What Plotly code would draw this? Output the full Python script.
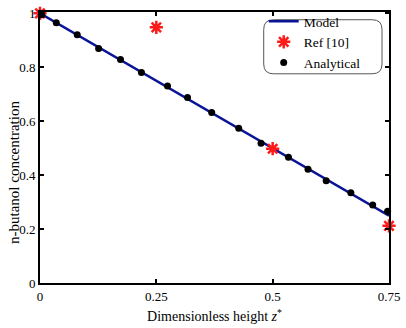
import plotly.graph_objects as go

# Data
model_x = [0.0, 0.15, 0.30, 0.45, 0.60, 0.75]
model_y = [1.0, 0.85, 0.70, 0.55, 0.40, 0.25]

ref_x = [0.0, 0.25, 0.5, 0.75]
ref_y = [1.0, 0.948, 0.498, 0.212]

ana_x = [0.004, 0.035, 0.080, 0.126, 0.173, 0.218, 0.274, 0.317, 0.369,
         0.427, 0.475, 0.534, 0.576, 0.615, 0.668, 0.715, 0.747]
ana_y = [0.995, 0.965, 0.921, 0.870, 0.829, 0.781, 0.731, 0.688, 0.632,
         0.574, 0.518, 0.466, 0.422, 0.379, 0.335, 0.289, 0.266]

x_ticks = [0, 0.25, 0.5, 0.75]
x_tick_labels = ["0", "0.25", "0.5", "0.75"]
y_ticks = [0, 0.2, 0.4, 0.6, 0.8, 1.0]
y_tick_labels = ["0", "0.2", "0.4", "0.6", "0.8", "1"]

FONT = "Liberation Serif, Times New Roman, serif"

fig = go.Figure()
fig.add_trace(go.Scatter(x=model_x, y=model_y, mode="lines", name="Model",
                         line=dict(color="#0a1496", width=2.5)))
fig.add_trace(go.Scatter(x=ref_x, y=ref_y, mode="markers", name="Ref [10]",
                         marker=dict(symbol="asterisk-open", size=11, color="#ff1a1a",
                                     line=dict(color="#ff1a1a", width=2.5)),
                         cliponaxis=False))
fig.add_trace(go.Scatter(x=ana_x, y=ana_y, mode="markers", name="Analytical",
                         marker=dict(symbol="circle", size=7, color="black"),
                         cliponaxis=False))

# rounded legend box (paper coords)
x0, x1, y0, y1 = 0.641, 0.980, 0.772, 0.9715
rx, ry = 0.028, 0.036
path = (f"M {x0+rx},{y1} L {x1-rx},{y1} Q {x1},{y1} {x1},{y1-ry} "
        f"L {x1},{y0+ry} Q {x1},{y0} {x1-rx},{y0} L {x0+rx},{y0} "
        f"Q {x0},{y0} {x0},{y0+ry} L {x0},{y1-ry} Q {x0},{y1} {x0+rx},{y1} Z")

fig.update_layout(
    width=406, height=328,
    margin=dict(l=40, r=12, t=6, b=41),
    paper_bgcolor="white", plot_bgcolor="white",
    font=dict(family=FONT, size=13, color="black"),
    showlegend=True,
    legend=dict(x=0.641, y=1.022, xanchor="left", yanchor="top",
                bgcolor="rgba(0,0,0,0)", borderwidth=0,
                font=dict(family=FONT, size=13.5), tracegroupgap=0),
    shapes=[dict(type="path", xref="paper", yref="paper", path=path, layer="above",
                 line=dict(color="#555555", width=1), fillcolor="rgba(0,0,0,0)")],
    annotations=[dict(text="n-butanol concentration", xref="paper", yref="paper",
                      x=0, y=0.406, xshift=-26, textangle=-90, showarrow=False,
                      xanchor="center", yanchor="middle",
                      font=dict(family=FONT, size=15))],
    xaxis=dict(range=[0, 0.75], tickvals=x_ticks, ticktext=x_tick_labels,
               showgrid=False, zeroline=False, showline=True, linewidth=2,
               linecolor="black", mirror="ticks", ticks="inside", ticklen=4,
               tickwidth=1.5, tickcolor="black",
               title=dict(text="Dimensionless height <i>z</i><sup>*</sup>",
                          font=dict(family=FONT, size=14), standoff=9)),
    yaxis=dict(range=[0, 1.005], tickvals=y_ticks, ticktext=y_tick_labels,
               showgrid=False, zeroline=False, showline=True, linewidth=2,
               linecolor="black", mirror="ticks", ticks="inside", ticklen=4,
               tickwidth=1.5, tickcolor="black"),
)

fig.write_html("out.html", config={"displayModeBar": False},
               post_script="document.body.style.margin='0';")
